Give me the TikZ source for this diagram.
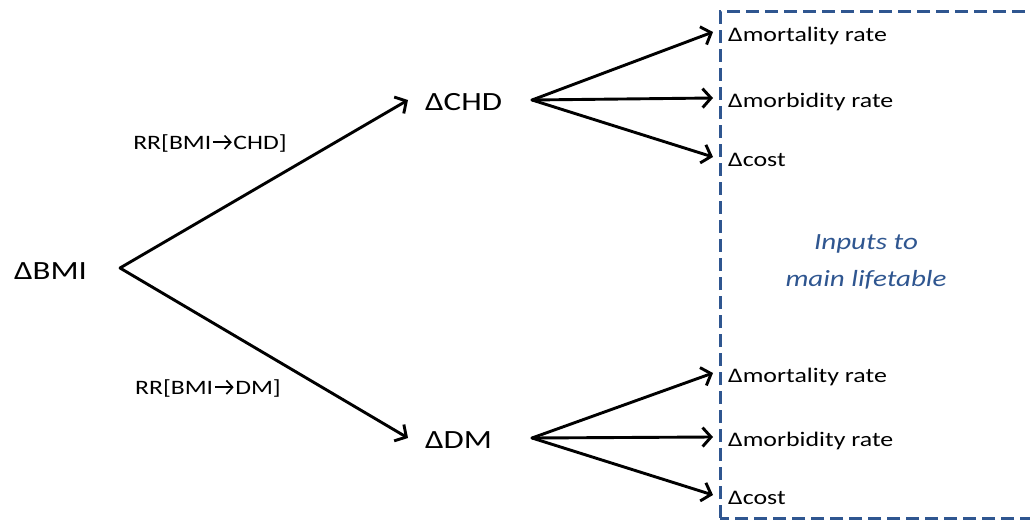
\documentclass[tikz,border=0pt]{standalone}
\usepackage{fontspec}
\setmainfont{Carlito}[FakeStretch=1.25]
\usetikzlibrary{arrows.meta}
\definecolor{boxblue}{HTML}{2F5690}
\newcommand\rrarrow{\hspace{0.04em}\tikz[baseline=0pt]\draw[line width=0.08em, line cap=butt, -{Straight Barb[length=0.3em,width=0.66em,line width=0.08em]}] (0,0.33em) -- (0.92em,0.33em);\hspace{0.04em}}
\begin{document}
\begin{tikzpicture}[x=1pt,y=1pt,
  conn/.style={line width=2.9pt, line cap=round, -{Straight Barb[length=8.5pt,width=19pt]}},
  mainlbl/.style={font=\fontsize{26.3}{32}\selectfont, inner ysep=0pt, text height=21.4pt, text depth=0pt, anchor=west},
  outlbl/.style={font=\fontsize{20.7}{25}\selectfont, inner ysep=0pt, text height=19.4pt, text depth=0pt, anchor=west, inner xsep=15pt},
  rrlbl/.style={font=\fontsize{20.5}{26}\selectfont, inner sep=0pt},
  inlbl/.style={font=\fontsize{23.2}{37}\selectfont\itshape, text=boxblue, align=center, inner sep=0pt},
  inbox/.style={draw=boxblue, line width=3pt, dash pattern=on 13pt off 6pt}
]
\useasboundingbox (0,0) rectangle (1030,520);
\clip (0,0) rectangle (1030,520);

% dashed box
\draw[inbox] (720,2) rectangle (1045,508);
\node[inlbl] (inputs) at (866,258) {Inputs to\\main lifetable};

% main nodes
\node[mainlbl, inner xsep=0pt] (bmi) at (14,251.4) {ΔBMI};
\coordinate (bmiF) at (120,252);
\node[mainlbl, inner xsep=17pt] (chd) at (408,420) {ΔCHD};
\node[mainlbl, inner xsep=17pt] (dm) at (408,82) {ΔDM};
\coordinate (chdF) at (532,420);
\coordinate (dmF) at (532,82);

% outputs
\node[outlbl] (chdmort) at (713,488) {Δmortality rate};
\node[outlbl] (chdmorb) at (713,422) {Δmorbidity rate};
\node[outlbl] (chdcost) at (713,363) {Δcost};
\node[outlbl] (dmmort) at (713,147) {Δmortality rate};
\node[outlbl] (dmmorb) at (713,83) {Δmorbidity rate};
\node[outlbl] (dmcost) at (713,25) {Δcost};

% RR labels
\node[rrlbl] (rrchd) at (210,377) {RR[BMI\rrarrow CHD]};
\node[rrlbl] (rrdm) at (208,132) {RR[BMI\rrarrow DM]};

% connectors
\draw[conn] (bmiF) -- (chd.west);
\draw[conn] (bmiF) -- (dm.west);
\draw[conn] (chdF) -- (chdmort.west);
\draw[conn] (chdF) -- (chdmorb.west);
\draw[conn] (chdF) -- (chdcost.west);
\draw[conn] (dmF) -- (dmmort.west);
\draw[conn] (dmF) -- (dmmorb.west);
\draw[conn] (dmF) -- (dmcost.west);
\end{tikzpicture}
\end{document}
